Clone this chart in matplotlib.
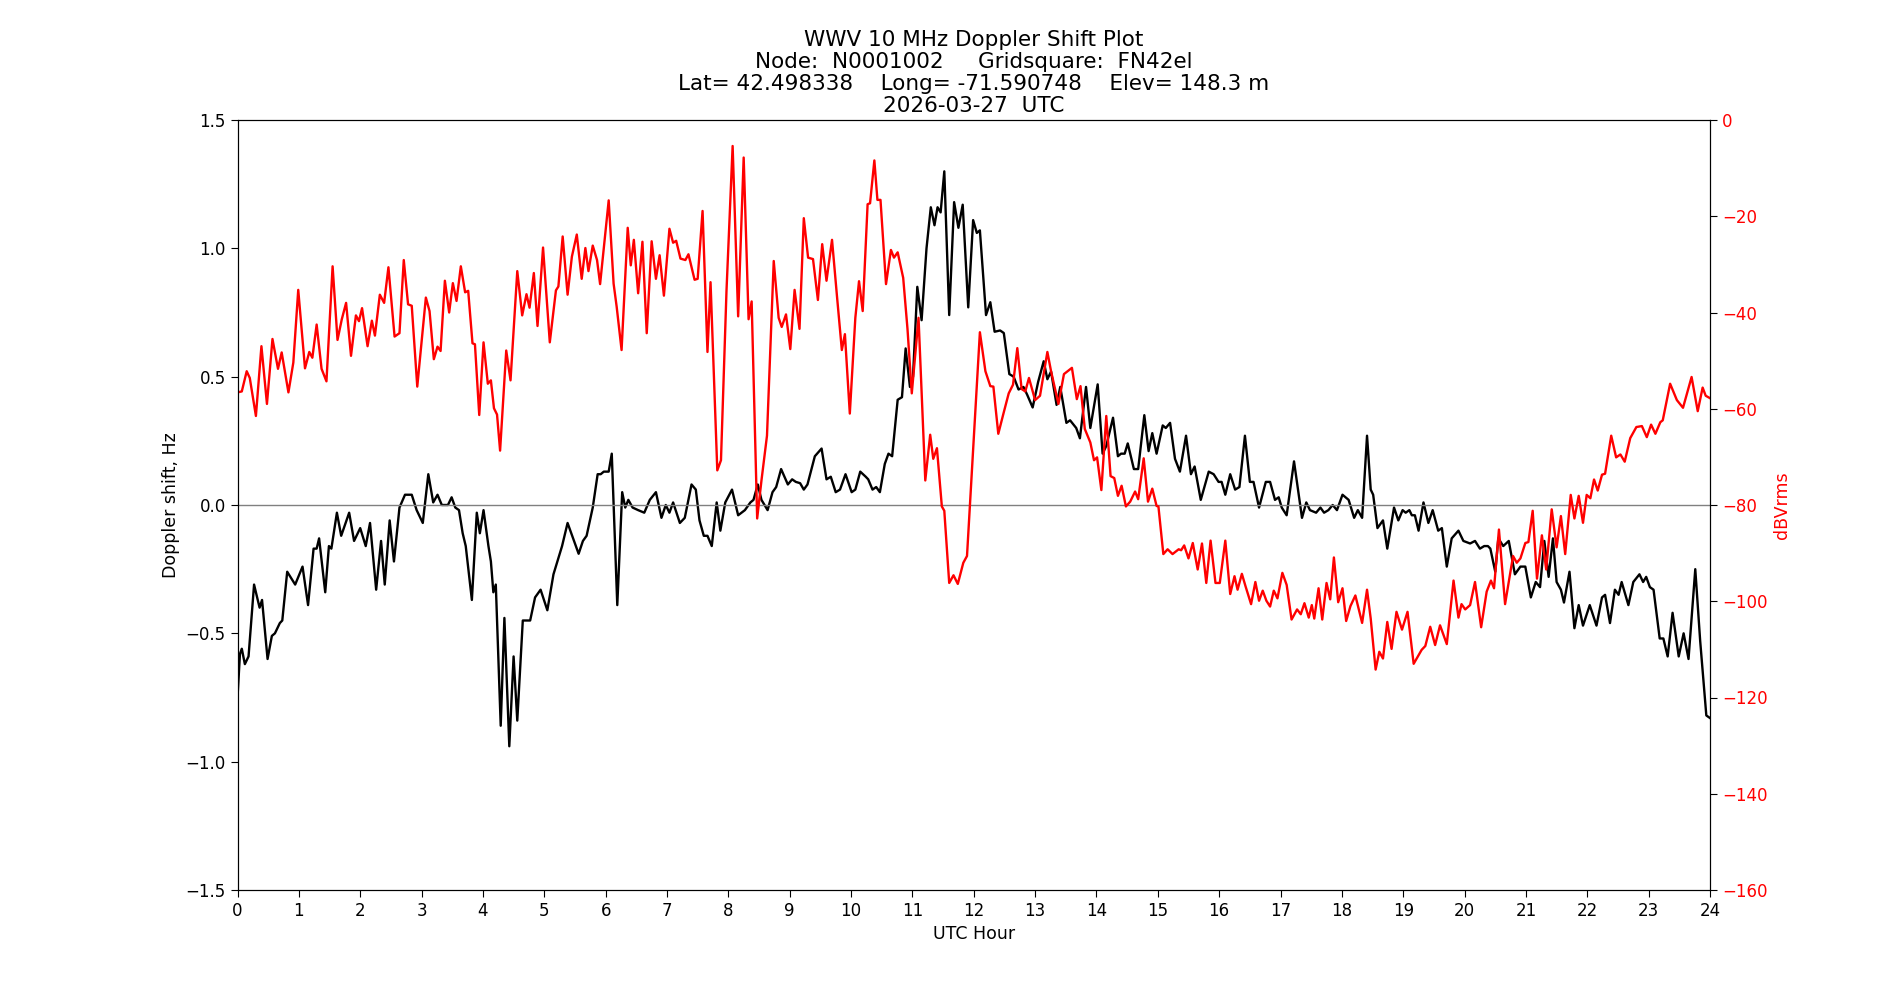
import matplotlib
matplotlib.use("Agg")
import matplotlib.pyplot as plt

# Doppler shift (Hz) vs UTC hour
dop_t = [0.0, 0.04, 0.07, 0.12, 0.18, 0.27, 0.36, 0.40, 0.49, 0.56, 0.61, 0.69, 0.73, 0.81, 0.94,
         1.06, 1.15, 1.24, 1.29, 1.33, 1.43, 1.49, 1.53, 1.62, 1.69, 1.82, 1.90, 2.00, 2.09, 2.16,
         2.26, 2.34, 2.40, 2.48, 2.55, 2.64, 2.73, 2.84, 2.92, 3.02, 3.11, 3.19, 3.26, 3.33, 3.43,
         3.49, 3.55, 3.61, 3.67, 3.72, 3.82, 3.90, 3.95, 4.01, 4.09, 4.13, 4.17, 4.21, 4.29, 4.35,
         4.43, 4.50, 4.56, 4.65, 4.77, 4.85, 4.94, 5.05, 5.15, 5.29, 5.38, 5.56, 5.63, 5.69, 5.79,
         5.87, 5.92, 5.97, 6.05, 6.10, 6.19, 6.27, 6.32, 6.37, 6.44, 6.53, 6.63, 6.72, 6.82, 6.91,
         6.98, 7.04, 7.10, 7.21, 7.29, 7.40, 7.47, 7.53, 7.60, 7.66, 7.73, 7.81, 7.87, 7.95, 8.06,
         8.16, 8.27, 8.36, 8.41, 8.48, 8.54, 8.64, 8.72, 8.78, 8.86, 8.97, 9.04, 9.10, 9.17, 9.23,
         9.29, 9.41, 9.52, 9.60, 9.67, 9.75, 9.82, 9.91, 10.01, 10.07, 10.15, 10.24, 10.28, 10.35,
         10.41, 10.47, 10.55, 10.61, 10.67, 10.76, 10.83, 10.89, 10.96, 11.01, 11.08, 11.15, 11.23,
         11.30, 11.36, 11.41, 11.46, 11.52, 11.60, 11.68, 11.75, 11.82, 11.91, 11.99, 12.05, 12.10,
         12.20, 12.27, 12.34, 12.43, 12.49, 12.58, 12.65, 12.73, 12.81, 12.87, 12.96, 13.05, 13.14,
         13.20, 13.26, 13.35, 13.41, 13.51, 13.57, 13.67, 13.73, 13.83, 13.90, 14.02, 14.10, 14.16,
         14.27, 14.35, 14.40, 14.46, 14.51, 14.61, 14.68, 14.78, 14.85, 14.91, 14.98, 15.08, 15.13,
         15.20, 15.28, 15.36, 15.46, 15.54, 15.60, 15.70, 15.83, 15.91, 15.99, 16.04, 16.10, 16.18,
         16.26, 16.33, 16.42, 16.50, 16.56, 16.65, 16.76, 16.83, 16.91, 16.97, 17.02, 17.10, 17.22,
         17.35, 17.42, 17.48, 17.58, 17.65, 17.71, 17.78, 17.85, 17.92, 18.01, 18.11, 18.20, 18.26,
         18.33, 18.41, 18.47, 18.51, 18.58, 18.67, 18.74, 18.85, 18.92, 18.99, 19.04, 19.10, 19.14,
         19.19, 19.25, 19.33, 19.41, 19.48, 19.57, 19.63, 19.71, 19.79, 19.90, 19.98, 20.09, 20.17,
         20.25, 20.32, 20.38, 20.42, 20.50, 20.55, 20.63, 20.72, 20.82, 20.91, 20.99, 21.08, 21.16,
         21.23, 21.30, 21.37, 21.44, 21.50, 21.57, 21.62, 21.71, 21.79, 21.86, 21.93, 22.04, 22.15,
         22.24, 22.29, 22.37, 22.45, 22.51, 22.56, 22.67, 22.75, 22.85, 22.91, 22.96, 23.02, 23.08,
         23.18, 23.24, 23.31, 23.39, 23.49, 23.57, 23.65, 23.76, 23.84, 23.94, 24.00]
dop_hz = [-0.75, -0.58, -0.56, -0.62, -0.59, -0.31, -0.40, -0.37, -0.60, -0.51, -0.50, -0.46, -0.45, -0.26, -0.31,
          -0.24, -0.39, -0.17, -0.17, -0.13, -0.34, -0.16, -0.17, -0.03, -0.12, -0.03, -0.14, -0.09, -0.16, -0.07,
          -0.33, -0.14, -0.31, -0.06, -0.22, -0.01, 0.04, 0.04, -0.02, -0.07, 0.12, 0.01, 0.04, 0.0, 0.0,
          0.03, -0.01, -0.02, -0.11, -0.16, -0.37, -0.03, -0.11, -0.02, -0.16, -0.22, -0.34, -0.31, -0.86, -0.44,
          -0.94, -0.59, -0.84, -0.45, -0.45, -0.36, -0.33, -0.41, -0.27, -0.16, -0.07, -0.19, -0.14, -0.12, -0.01,
          0.12, 0.12, 0.13, 0.13, 0.20, -0.39, 0.05, -0.01, 0.02, -0.01, -0.02, -0.03, 0.02, 0.05, -0.05,
          0.0, -0.03, 0.01, -0.07, -0.05, 0.08, 0.06, -0.06, -0.12, -0.12, -0.16, 0.01, -0.10, 0.01, 0.06,
          -0.04, -0.02, 0.01, 0.02, 0.08, 0.02, -0.02, 0.05, 0.07, 0.14, 0.08, 0.10, 0.09, 0.085, 0.06,
          0.08, 0.19, 0.22, 0.10, 0.11, 0.05, 0.06, 0.12, 0.05, 0.06, 0.13, 0.11, 0.10, 0.06,
          0.07, 0.05, 0.16, 0.20, 0.19, 0.41, 0.42, 0.61, 0.46, 0.50, 0.85, 0.72, 1.00,
          1.16, 1.09, 1.16, 1.14, 1.30, 0.74, 1.18, 1.08, 1.17, 0.77, 1.11, 1.06, 1.07,
          0.74, 0.79, 0.675, 0.68, 0.67, 0.51, 0.50, 0.45, 0.46, 0.43, 0.38, 0.48, 0.56,
          0.49, 0.52, 0.39, 0.46, 0.32, 0.33, 0.30, 0.26, 0.46, 0.30, 0.47, 0.20, 0.23,
          0.34, 0.19, 0.20, 0.20, 0.24, 0.14, 0.14, 0.35, 0.21, 0.28, 0.20, 0.31, 0.30,
          0.32, 0.18, 0.13, 0.27, 0.12, 0.15, 0.02, 0.13, 0.12, 0.09, 0.09, 0.04, 0.12,
          0.06, 0.07, 0.27, 0.09, 0.09, -0.01, 0.09, 0.09, 0.02, 0.03, -0.01, -0.04, 0.17,
          -0.05, 0.01, -0.02, -0.03, -0.01, -0.03, -0.02, 0.0, -0.02, 0.04, 0.02, -0.05, -0.02,
          -0.05, 0.27, 0.06, 0.04, -0.09, -0.06, -0.17, -0.01, -0.06, -0.02, -0.03, -0.02, -0.04,
          -0.04, -0.10, 0.01, -0.07, -0.02, -0.10, -0.09, -0.24, -0.13, -0.10, -0.14, -0.15, -0.14,
          -0.17, -0.16, -0.16, -0.17, -0.26, -0.13, -0.16, -0.14, -0.27, -0.24, -0.24, -0.36, -0.30,
          -0.32, -0.14, -0.28, -0.13, -0.30, -0.33, -0.38, -0.26, -0.48, -0.39, -0.47, -0.39, -0.47,
          -0.36, -0.35, -0.46, -0.33, -0.35, -0.30, -0.39, -0.30, -0.27, -0.30, -0.28, -0.32, -0.33,
          -0.52, -0.52, -0.59, -0.42, -0.59, -0.50, -0.60, -0.25, -0.53, -0.82, -0.83]

# Signal level (dBVrms) vs UTC hour
pwr_t = [0.0, 0.07, 0.15, 0.20, 0.30, 0.39, 0.48, 0.57, 0.66, 0.72, 0.83, 0.91, 0.99, 1.10, 1.17,
         1.22, 1.29, 1.37, 1.45, 1.55, 1.63, 1.70, 1.77, 1.85, 1.93, 1.98, 2.03, 2.12, 2.19, 2.24,
         2.32, 2.39, 2.46, 2.56, 2.64, 2.71, 2.78, 2.84, 2.93, 3.07, 3.13, 3.20, 3.26, 3.31, 3.38,
         3.45, 3.51, 3.57, 3.64, 3.71, 3.76, 3.83, 3.87, 3.94, 4.01, 4.08, 4.13, 4.18, 4.23, 4.28,
         4.38, 4.45, 4.56, 4.64, 4.71, 4.76, 4.83, 4.89, 4.98, 5.09, 5.19, 5.23, 5.30, 5.38, 5.45,
         5.53, 5.61, 5.67, 5.72, 5.79, 5.86, 5.91, 6.05, 6.13, 6.18, 6.26, 6.36, 6.41, 6.46, 6.53,
         6.60, 6.67, 6.75, 6.82, 6.88, 6.95, 7.04, 7.10, 7.15, 7.22, 7.30, 7.35, 7.45, 7.50, 7.58,
         7.66, 7.71, 7.82, 7.88, 7.97, 8.07, 8.16, 8.25, 8.33, 8.38, 8.47, 8.54, 8.63, 8.74, 8.82,
         8.87, 8.94, 9.01, 9.08, 9.16, 9.23, 9.30, 9.38, 9.46, 9.53, 9.60, 9.69, 9.77, 9.85, 9.90,
         9.98, 10.07, 10.13, 10.19, 10.27, 10.31, 10.38, 10.43, 10.48, 10.57, 10.65, 10.70, 10.76,
         10.85, 10.92, 10.99, 11.10, 11.21, 11.29, 11.34, 11.40, 11.48, 11.52, 11.60, 11.67, 11.74,
         11.83, 11.89, 11.94, 12.10, 12.19, 12.27, 12.32, 12.40, 12.48, 12.57, 12.64, 12.71, 12.78,
         12.84, 12.90, 13.00, 13.08, 13.20, 13.26, 13.38, 13.47, 13.60, 13.68, 13.74, 13.81, 13.90,
         13.96, 14.01, 14.08, 14.16, 14.23, 14.29, 14.35, 14.41, 14.48, 14.55, 14.63, 14.68, 14.77,
         14.84, 14.91, 14.98, 15.01, 15.09, 15.16, 15.24, 15.34, 15.38, 15.43, 15.50, 15.57, 15.65,
         15.72, 15.79, 15.86, 15.94, 16.01, 16.10, 16.18, 16.25, 16.30, 16.37, 16.43, 16.52, 16.59,
         16.65, 16.71, 16.77, 16.83, 16.89, 16.95, 17.03, 17.10, 17.18, 17.27, 17.33, 17.39, 17.46,
         17.51, 17.55, 17.62, 17.68, 17.75, 17.81, 17.87, 17.94, 18.01, 18.07, 18.14, 18.22, 18.33,
         18.41, 18.47, 18.55, 18.61, 18.67, 18.74, 18.81, 18.89, 18.98, 19.07, 19.17, 19.30, 19.36,
         19.44, 19.52, 19.60, 19.71, 19.82, 19.90, 19.95, 20.01, 20.09, 20.17, 20.27, 20.36, 20.43,
         20.48, 20.56, 20.66, 20.79, 20.85, 20.91, 20.99, 21.04, 21.11, 21.18, 21.26, 21.33, 21.42,
         21.50, 21.57, 21.64, 21.73, 21.79, 21.86, 21.93, 21.99, 22.05, 22.11, 22.17, 22.24, 22.29,
         22.39, 22.47, 22.54, 22.61, 22.70, 22.80, 22.89, 22.97, 23.04, 23.11, 23.19, 23.23, 23.35,
         23.46, 23.56, 23.70, 23.80, 23.88, 23.93, 24.00]
pwr_db = [-56.6, -56.4, -52.2, -53.6, -61.5, -47.0, -59.0, -45.5, -51.7, -48.3, -56.6, -50.4, -35.3, -51.6, -48.2,
          -49.4, -42.5, -51.7, -54.3, -30.4, -45.7, -41.4, -38.0, -49.0, -40.6, -41.8, -39.1, -47.0, -41.7, -44.8,
          -36.3, -38.0, -30.6, -45.0, -44.3, -29.1, -38.3, -38.6, -55.4, -36.9, -39.7, -49.7, -47.1, -48.0, -33.4,
          -40.0, -33.9, -37.6, -30.4, -35.8, -35.5, -46.4, -46.6, -61.3, -46.2, -54.8, -54.1, -59.9, -61.2, -68.7,
          -47.9, -54.1, -31.4, -40.6, -36.2, -39.0, -31.8, -42.8, -26.5, -46.2, -35.4, -34.6, -24.2, -36.3, -28.4,
          -23.8, -33.0, -26.6, -31.4, -26.1, -29.1, -34.1, -16.7, -34.0, -38.8, -47.8, -22.4, -30.2, -24.9, -36.0,
          -25.3, -44.3, -25.2, -33.0, -28.1, -36.5, -22.6, -25.5, -25.1, -28.8, -29.1, -27.9, -33.2, -33.0, -18.9,
          -48.2, -33.7, -72.8, -70.7, -35.5, -5.4, -40.8, -7.8, -41.4, -37.7, -82.8, -74.9, -65.6, -29.3, -41.1,
          -43.0, -40.4, -47.6, -35.3, -43.4, -20.4, -28.6, -28.9, -37.4, -25.8, -33.4, -24.9, -36.5, -47.8, -44.5,
          -61.0, -41.1, -33.5, -39.7, -17.5, -17.3, -8.4, -16.6, -16.6, -34.1, -27.0, -28.6, -27.5,
          -32.8, -43.4, -56.8, -41.1, -74.9, -65.4, -70.4, -68.2, -80.3, -81.2, -96.2, -94.6, -96.4,
          -92.0, -90.6, -79.5, -44.1, -52.2, -55.3, -55.4, -65.2, -61.2, -56.8, -55.0, -47.4, -55.9,
          -56.4, -53.6, -58.2, -57.3, -48.2, -52.2, -59.0, -52.8, -51.5, -58.0, -55.3, -64.2, -67.0,
          -70.7, -70.1, -76.9, -61.5, -74.0, -74.4, -78.1, -76.0, -80.3, -79.3, -77.2, -78.8, -70.3,
          -79.3, -76.6, -80.2, -80.3, -90.2, -89.2, -90.2, -89.2, -89.4, -88.4, -91.1, -87.9, -93.4,
          -88.0, -96.2, -87.4, -96.2, -96.2, -87.4, -98.5, -94.8, -97.6, -94.3, -96.9, -100.6, -96.0,
          -99.9, -97.8, -99.9, -101.1, -97.8, -99.4, -94.1, -96.6, -103.8, -101.7, -102.7, -100.4, -103.4,
          -100.8, -103.6, -97.3, -103.8, -96.2, -99.6, -90.9, -100.2, -97.3, -104.1, -101.0, -98.8, -104.5,
          -97.6, -103.6, -114.2, -110.5, -111.9, -104.3, -109.9, -102.2, -105.9, -102.2, -113.0, -110.1, -109.3,
          -105.3, -109.1, -105.0, -108.9, -95.7, -103.4, -100.6, -101.7, -100.8, -96.0, -105.4, -98.0, -95.7,
          -97.3, -85.1, -100.6, -90.6, -92.0, -91.1, -87.9, -87.7, -81.2, -95.3, -86.3, -93.4, -80.9,
          -88.8, -82.3, -90.2, -77.9, -82.8, -78.1, -83.7, -77.9, -78.6, -74.7, -77.0, -73.7, -73.5,
          -65.6, -70.1, -69.5, -71.0, -66.1, -63.8, -63.6, -65.9, -63.3, -65.2, -62.8, -62.4, -54.8,
          -58.2, -59.8, -53.4, -60.5, -55.6, -57.3, -57.8]

hour_ticks = list(range(0, 25))
dop_ticks = [-1.5, -1.0, -0.5, 0.0, 0.5, 1.0, 1.5]
pwr_ticks = list(range(-160, 1, 20))

title_lines = ["WWV 10 MHz Doppler Shift Plot",
               "Node:  N0001002     Gridsquare:  FN42el",
               "Lat= 42.498338    Long= -71.590748    Elev= 148.3 m",
               "2026-03-27  UTC"]

fig = plt.figure(figsize=(19, 10), dpi=100)
ax = fig.add_subplot(111)
ax.plot(dop_t, dop_hz, color="black", linewidth=1.7)
ax.axhline(0, color="gray", linewidth=1.0)
ax.set_xlim(0, 24)
ax.set_ylim(-1.5, 1.5)
ax.set_xticks(hour_ticks)
ax.set_yticks(dop_ticks)
ax.set_xlabel("UTC Hour", fontsize=12.5)
ax.set_ylabel("Doppler shift, Hz", fontsize=12.5)
ax.tick_params(labelsize=12, length=5)
ax.set_title("\n".join(title_lines), fontsize=15.5, linespacing=1.12)

ax2 = ax.twinx()
ax2.plot(pwr_t, pwr_db, color="red", linewidth=1.7)
ax2.set_ylim(-160, 0)
ax2.set_yticks(pwr_ticks)
ax2.set_ylabel("dBVrms", color="red", fontsize=12.5)
ax2.tick_params(axis="y", labelcolor="red", labelsize=12, length=5)

fig.savefig("out.png", dpi=100)
